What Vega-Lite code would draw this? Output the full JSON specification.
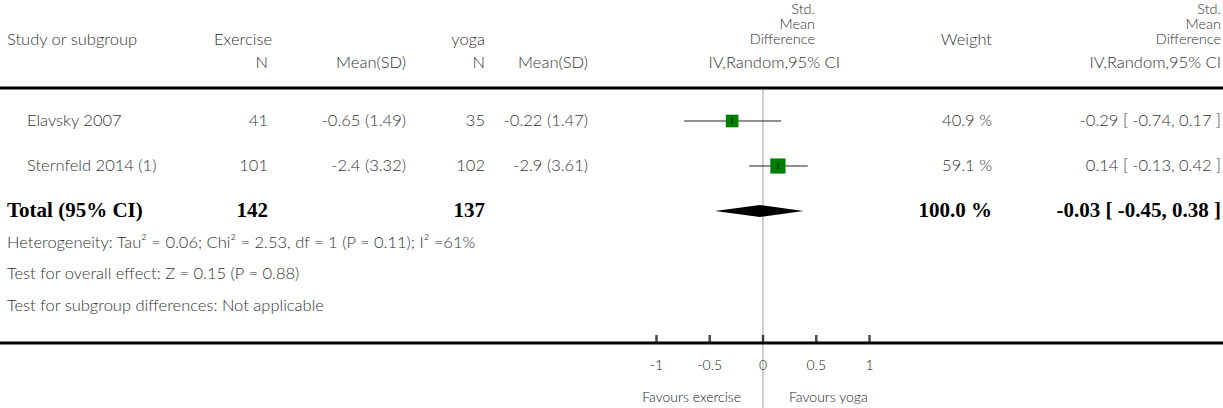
{
  "$schema": "https://vega.github.io/schema/vega-lite/v6.json",
  "width": 1223,
  "height": 408,
  "autosize": "none",
  "padding": 0,
  "background": "white",
  "config": {"view": {"stroke": null}, "text": {"font": "Lato", "fontSize": 16.5, "fontWeight": 300, "color": "#333333", "lineBreak": "\n", "lineHeight": 15}},
  "datasets": {
    "cells": [
      {"row": 0, "col": 7, "t": "Std.\nMean\nDifference"},
      {"row": 0, "col": 10, "t": "Std.\nMean\nDifference"},
      {"row": 2, "col": 0, "t": "Study or subgroup"},
      {"row": 2, "col": 2, "t": "Exercise"},
      {"row": 2, "col": 5, "t": "yoga"},
      {"row": 2, "col": 9, "t": "Weight"},
      {"row": 3, "col": 3, "t": "N"},
      {"row": 3, "col": 4, "t": "Mean(SD)"},
      {"row": 3, "col": 5, "t": "N"},
      {"row": 3, "col": 6, "t": "Mean(SD)"},
      {"row": 3, "col": 8, "t": "IV,Random,95% CI"},
      {"row": 3, "col": 10, "t": "IV,Random,95% CI"},
      {"row": 5, "col": 1, "t": "Elavsky 2007"},
      {"row": 5, "col": 3, "t": "41"},
      {"row": 5, "col": 4, "t": "-0.65 (1.49)"},
      {"row": 5, "col": 5, "t": "35"},
      {"row": 5, "col": 6, "t": "-0.22 (1.47)"},
      {"row": 5, "col": 9, "t": "40.9 %"},
      {"row": 5, "col": 10, "t": "-0.29 [ -0.74, 0.17 ]"},
      {"row": 6, "col": 1, "t": "Sternfeld 2014 (1)"},
      {"row": 6, "col": 3, "t": "101"},
      {"row": 6, "col": 4, "t": "-2.4 (3.32)"},
      {"row": 6, "col": 5, "t": "102"},
      {"row": 6, "col": 6, "t": "-2.9 (3.61)"},
      {"row": 6, "col": 9, "t": "59.1 %"},
      {"row": 6, "col": 10, "t": "0.14 [ -0.13, 0.42 ]"},
      {"row": 7, "col": 0, "t": "Total (95% CI)"},
      {"row": 7, "col": 3, "t": "142"},
      {"row": 7, "col": 5, "t": "137"},
      {"row": 7, "col": 9, "t": "100.0 %"},
      {"row": 7, "col": 10, "t": "-0.03 [ -0.45, 0.38 ]"},
      {"row": 8, "col": 0, "t": "Heterogeneity: Tau² = 0.06; Chi² = 2.53, df = 1 (P = 0.11); I² =61%"},
      {"row": 9, "col": 0, "t": "Test for overall effect: Z = 0.15 (P = 0.88)"},
      {"row": 10, "col": 0, "t": "Test for subgroup differences: Not applicable"}
    ],
    "studies": [
      {"study": "Elavsky 2007", "row": 5, "smd": -0.29, "lo": -0.74, "hi": 0.17, "weight": 40.9},
      {"study": "Sternfeld 2014 (1)", "row": 6, "smd": 0.14, "lo": -0.13, "hi": 0.42, "weight": 59.1}
    ],
    "diamond": [
      {"x": -0.45, "top": 0, "bottom": 0},
      {"x": -0.03, "top": 1, "bottom": -1},
      {"x": 0.38, "top": 0, "bottom": 0}
    ],
    "ticks": [
      {"v": -1, "label": "-1"},
      {"v": -0.5, "label": "-0.5"},
      {"v": 0, "label": "0"},
      {"v": 0.5, "label": "0.5"},
      {"v": 1, "label": "1"}
    ],
    "one": [{"k": 1}]
  },
  "resolve": {"scale": {"x": "independent", "y": "independent", "size": "independent"}},
  "layer": [
    {
      "data": {"name": "cells"},
      "encoding": {
        "x": {"field": "col", "type": "quantitative", "axis": null,
              "scale": {"type": "linear", "domain": [0,1,2,3,4,5,6,7,8,9,10], "range": [7,27,214,268,406,485,588,815,840,992,1221], "nice": false, "zero": false}},
        "y": {"field": "row", "type": "quantitative", "axis": null,
              "scale": {"type": "linear", "domain": [0,1,2,3,4,5,6,7,8,9,10,11,12,13,14], "range": [10,25,40,63,88,121,166,211,243,274,306,343,366,398,408], "nice": false, "zero": false}},
        "text": {"field": "t", "type": "nominal"}
      },
      "layer": [
        {"transform": [{"filter": "datum.col <= 2 && datum.row != 7"}], "mark": {"type": "text", "align": "left", "baseline": "middle"}},
        {"transform": [{"filter": "datum.col > 2 && datum.row != 7 && datum.row != 0"}], "mark": {"type": "text", "align": "right", "baseline": "middle"}},
        {"transform": [{"filter": "datum.row == 0"}], "mark": {"type": "text", "align": "right", "baseline": "middle", "fontSize": 14.5}},
        {"transform": [{"filter": "datum.col <= 2 && datum.row == 7"}], "mark": {"type": "text", "align": "left", "baseline": "middle", "font": "Liberation Serif", "fontWeight": "bold", "fontSize": 21, "color": "black"}},
        {"transform": [{"filter": "datum.col > 2 && datum.row == 7"}], "mark": {"type": "text", "align": "right", "baseline": "middle", "font": "Liberation Serif", "fontWeight": "bold", "fontSize": 21, "color": "black"}}
      ]
    },
    {
      "layer": [
        {"data": {"name": "one"}, "mark": {"type": "rule", "color": "#a0a0a0", "strokeWidth": 1},
         "encoding": {
           "x": {"datum": 0, "type": "quantitative", "axis": null, "scale": {"type": "linear", "domain": [-1, 1], "range": [656.5, 869.5], "nice": false, "zero": false}},
           "y": {"datum": 4, "type": "quantitative", "axis": null, "scale": {"type": "linear", "domain": [0,1,2,3,4,5,6,7,8,9,10,11,12,13,14], "range": [10,25,40,63,88,121,166,211,243,274,306,343,366,398,408], "nice": false, "zero": false}},
           "y2": {"datum": 14}
         }},
        {"data": {"name": "one"}, "mark": {"type": "rule", "color": "black", "strokeWidth": 3},
         "encoding": {"y": {"datum": 4, "type": "quantitative"}}},
        {"data": {"name": "one"}, "mark": {"type": "rule", "color": "black", "strokeWidth": 3},
         "encoding": {"y": {"datum": 11, "type": "quantitative"}}},
        {"data": {"name": "studies"}, "mark": {"type": "rule", "color": "#222222", "strokeWidth": 1.2},
         "encoding": {
           "x": {"field": "lo", "type": "quantitative"},
           "x2": {"field": "hi"},
           "y": {"field": "row", "type": "quantitative"}
         }},
        {"data": {"name": "studies"}, "mark": {"type": "point", "shape": "square", "filled": true, "color": "#008000", "opacity": 1},
         "encoding": {
           "x": {"field": "smd", "type": "quantitative"},
           "y": {"field": "row", "type": "quantitative"},
           "size": {"field": "weight", "type": "quantitative", "legend": null, "scale": {"domain": [0, 100], "range": [0, 390]}}
         }},
        {"data": {"name": "studies"}, "mark": {"type": "tick", "orient": "vertical", "color": "#111111", "size": 6, "thickness": 1.5},
         "encoding": {
           "x": {"field": "smd", "type": "quantitative"},
           "y": {"field": "row", "type": "quantitative"}
         }},
        {"data": {"name": "ticks"}, "mark": {"type": "tick", "orient": "vertical", "color": "black", "size": 8, "thickness": 2.5, "yOffset": -4},
         "encoding": {
           "x": {"field": "v", "type": "quantitative"},
           "y": {"datum": 11, "type": "quantitative"}
         }},
        {"data": {"name": "ticks"}, "mark": {"type": "text", "align": "center", "baseline": "middle", "fontSize": 14, "color": "#222222"},
         "encoding": {
           "x": {"field": "v", "type": "quantitative"},
           "y": {"datum": 12, "type": "quantitative"},
           "text": {"field": "label", "type": "nominal"}
         }},
        {"data": {"name": "one"}, "mark": {"type": "text", "align": "right", "baseline": "middle", "dx": -22, "fontSize": 14, "color": "#222222"},
         "encoding": {
           "x": {"datum": 0, "type": "quantitative"},
           "y": {"datum": 13, "type": "quantitative"},
           "text": {"value": "Favours exercise"}
         }},
        {"data": {"name": "one"}, "mark": {"type": "text", "align": "left", "baseline": "middle", "dx": 26, "fontSize": 14, "color": "#222222"},
         "encoding": {
           "x": {"datum": 0, "type": "quantitative"},
           "y": {"datum": 13, "type": "quantitative"},
           "text": {"value": "Favours yoga"}
         }}
      ]
    },
    {
      "data": {"name": "diamond"},
      "mark": {"type": "area", "color": "black", "opacity": 1},
      "encoding": {
        "x": {"field": "x", "type": "quantitative", "axis": null, "scale": {"type": "linear", "domain": [-1, 1], "range": [656.5, 869.5], "nice": false, "zero": false}},
        "y": {"field": "top", "type": "quantitative", "axis": null, "scale": {"type": "linear", "domain": [-1, 1], "range": [217, 205], "nice": false, "zero": false}},
        "y2": {"field": "bottom"}
      }
    }
  ]
}
